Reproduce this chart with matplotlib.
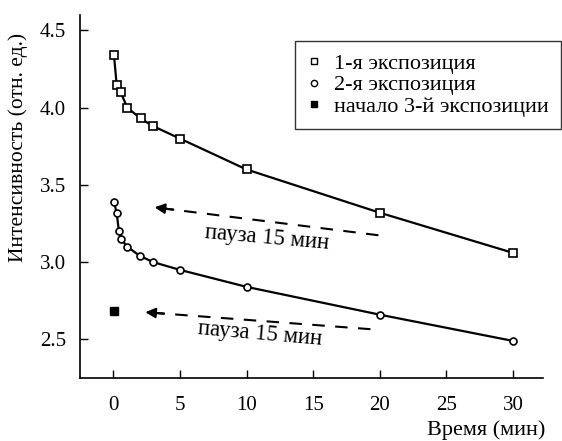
import matplotlib
matplotlib.use("Agg")
import matplotlib.pyplot as plt
from matplotlib.lines import Line2D

# exposure 1 (open squares)
t1 = [0.05, 0.25, 0.55, 1.05, 2.05, 3.0, 5.0, 10.0, 20.0, 30.0]
i1 = [4.34, 4.15, 4.10, 4.00, 3.93, 3.88, 3.80, 3.60, 3.32, 3.06]

# exposure 2 (open circles)
t2 = [0.05, 0.25, 0.42, 0.57, 1.05, 2.0, 3.0, 5.0, 10.0, 20.0, 30.0]
i2 = [3.39, 3.32, 3.20, 3.15, 3.10, 3.04, 3.00, 2.95, 2.84, 2.66, 2.49]

# start of exposure 3 (filled square)
t3 = [0.05]
i3 = [2.685]

# pause arrows: tail (x, y) -> head (x, y)
arrow_tails = [(19.9, 3.174), (19.3, 2.566)]
arrow_heads = [(3.1, 3.355), (2.4, 2.676)]
pause_text_pos = [(11.5, 3.155), (11.0, 2.535)]
pause_label = "пауза 15 мин"

legend_labels = ["1-я экспозиция", "2-я экспозиция", "начало 3-й экспозиции"]

plt.rcParams["font.family"] = ["Liberation Serif", "DejaVu Serif"]

fig = plt.figure(figsize=(5.62, 4.41), dpi=100)
ax = fig.add_axes([80 / 562, 63 / 441, (543 - 80) / 562, (378 - 15) / 441])

ax.plot(t1, i1, "-", color="black", lw=1.6, marker="s", ms=6,
        mfc="white", mec="black", mew=1.2)
ax.plot(t2, i2, "-", color="black", lw=1.6, marker="o", ms=5,
        mfc="white", mec="black", mew=1.2)
ax.plot(t3, i3, "s", color="black", ms=5.5)

for (xt, yt), (xh, yh), (xl, yl) in zip(arrow_tails, arrow_heads, pause_text_pos):
    slope = (yt - yh) / (xt - xh)
    ax.plot([xt, xh + 0.8], [yt, yh + 0.8 * slope],
            color="black", lw=1.5, ls=(0, (6, 5)))
    ax.annotate("", xy=(xh, yh), xytext=(xh + 1.4, yh + 1.4 * slope),
                arrowprops=dict(arrowstyle="-|>", color="black", lw=1.5,
                                mutation_scale=15, shrinkA=0, shrinkB=0))
    ax.text(xl, yl, pause_label, ha="center", va="center", fontsize=16.5, rotation=-5)

ax.set_xlim(-2.5, 32.25)
ax.set_ylim(2.25, 4.6)
ax.set_xticks([0, 5, 10, 15, 20, 25, 30])
ax.set_yticks([2.5, 3.0, 3.5, 4.0, 4.5])
ax.set_yticklabels(["2.5", "3.0", "3.5", "4.0", "4.5"])
ax.tick_params(direction="in", length=6, width=1, labelsize=15)
ax.tick_params(axis="y", pad=10)
ax.tick_params(axis="x", pad=13)
for side in ["top", "right"]:
    ax.spines[side].set_visible(False)
for side in ["left", "bottom"]:
    ax.spines[side].set_linewidth(1.2)

fig.text(18 / 562, 1 - 147 / 441, "Интенсивность (отн. ед.)", rotation=90,
         ha="center", va="center", fontsize=15.5)
fig.text(545 / 562, 1 - 430 / 441, "Время (мин)", ha="right", va="center", fontsize=16)

handles = [
    Line2D([], [], ls="none", marker="s", ms=5, mfc="white", mec="black", mew=1),
    Line2D([], [], ls="none", marker="o", ms=4.5, mfc="white", mec="black", mew=1),
    Line2D([], [], ls="none", marker="s", ms=5, color="black"),
]
leg = fig.legend(handles, legend_labels, loc="upper right",
                 bbox_to_anchor=(561 / 562, 1 - 41 / 441), fontsize=16,
                 frameon=True, fancybox=False, edgecolor="black",
                 handlelength=0.6, handletextpad=0.6, borderpad=0.55,
                 labelspacing=0.05, borderaxespad=0)
leg.get_frame().set_linewidth(1.0)

fig.savefig("out.png", dpi=100)
